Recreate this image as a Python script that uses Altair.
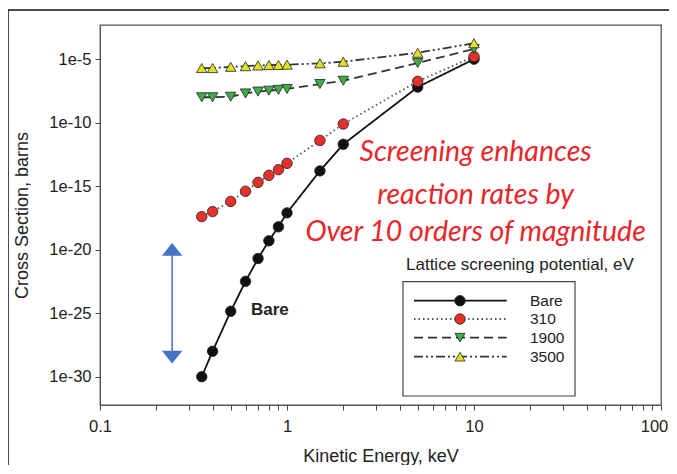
import altair as alt
import pandas as pd

# ---------------- data ----------------
energy = [0.35, 0.4, 0.5, 0.6, 0.7, 0.8, 0.9, 1.0, 1.5, 2.0, 5.0, 10.0]
bare = [1.0e-30, 1.0e-28, 1.4e-25, 3.2e-23, 2.0e-21, 5.0e-20, 6.3e-19, 7.9e-18,
        1.6e-14, 2.0e-12, 6.3e-8, 1.0e-5]
s310 = [4.0e-18, 1.0e-17, 6.3e-17, 4.0e-16, 2.0e-15, 7.1e-15, 2.0e-14, 6.3e-14,
        4.0e-12, 7.9e-11, 1.8e-7, 1.6e-5]
s1900 = [1.0e-8, 1.0e-8, 1.1e-8, 2.0e-8, 2.8e-8, 3.3e-8, 3.8e-8, 4.5e-8,
         1.1e-7, 2.0e-7, 5.0e-6, 6.3e-5]
s3500 = [2.0e-6, 2.0e-6, 2.5e-6, 2.8e-6, 3.2e-6, 3.4e-6, 3.5e-6, 3.7e-6,
         4.7e-6, 6.3e-6, 3.2e-5, 1.8e-4]
series_names = ["Bare", "310", "1900", "3500"]

x_ticks = [0.1, 0.2, 0.3, 0.4, 0.5, 0.6, 0.7, 0.8, 0.9,
           1, 2, 3, 4, 5, 6, 7, 8, 9,
           10, 20, 30, 40, 50, 60, 70, 80, 90, 100]
y_ticks = [1e-30, 1e-25, 1e-20, 1e-15, 1e-10, 1e-5]

note_lines = ["Screening enhances", "reaction rates by", "Over 10 orders of magnitude"]
note_x = [10.2, 10.2, 10.2]
note_y = [4.9e-13, 2.0e-16, 2.5e-19]

bare_label_x = [0.81]
bare_label_y = [1.8e-25]

arrow_x = [0.243]
arrow_top = [2.3e-20]
arrow_bottom = [1.6e-29]
arrow_head_top = [1.05e-20]
arrow_head_bottom = [3.5e-29]

legend_title = "Lattice screening potential, eV"

# ---------------- styles ----------------
FONT = "Liberation Sans"
line_colors = ["#111111", "#555555", "#333333", "#333333"]
dashes = [[1, 0], [1.5, 3], [9, 5], [9, 3, 2, 3, 2, 3]]
fills = ["#111111", "#E5312A", "#3DAE49", "#E4DF22"]
shapes = ["circle", "circle", "triangle-down", "triangle-up"]
sizes = [110, 110, 100, 100]
ARROW = "#4472C4"

W, H = 561, 380
YMIN, YMAX = 10 ** -32.23, 10 ** -2.31

rows = []
for name, vals in zip(series_names, [bare, s310, s1900, s3500]):
    for e, v in zip(energy, vals):
        rows.append({"series": name, "energy": e, "xs": v})
df = pd.DataFrame(rows)

x_enc = alt.X(
    "energy:Q",
    scale=alt.Scale(type="log", domain=[0.1, 100], nice=False),
    axis=alt.Axis(
        title="Kinetic Energy, keV",
        values=x_ticks,
        labelExpr="abs(log(datum.value)/LN10 - round(log(datum.value)/LN10)) < 0.001 ? format(datum.value, '~g') : ''",
        labelOverlap=False,
        labelFlush=False,
        labelOffset={"condition": {"test": "datum.value >= 99", "value": -7}, "value": 0},
        tickSize=5,
        labelPadding=8,
        titlePadding=13,
    ),
)
y_enc = alt.Y(
    "xs:Q",
    scale=alt.Scale(type="log", domain=[YMIN, YMAX], nice=False),
    axis=alt.Axis(
        title="Cross Section, barns",
        values=y_ticks,
        labelExpr="'1e-' + round(-log(datum.value)/LN10)",
        labelOverlap=False,
        tickSize=5,
        labelPadding=4,
        titlePadding=17,
    ),
)

lines = alt.Chart(df).mark_line(strokeWidth=1.8).encode(
    x=x_enc,
    y=y_enc,
    detail="series:N",
    color=alt.Color("series:N", scale=alt.Scale(domain=series_names, range=line_colors), legend=None),
    strokeDash=alt.StrokeDash("series:N", scale=alt.Scale(domain=series_names, range=dashes), legend=None),
)

points = alt.Chart(df).mark_point(filled=True, opacity=1, stroke="#222222", strokeWidth=0.8).encode(
    x=x_enc,
    y=y_enc,
    fill=alt.Fill("series:N", scale=alt.Scale(domain=series_names, range=fills), legend=None),
    shape=alt.Shape("series:N", scale=alt.Scale(domain=series_names, range=shapes), legend=None),
    size=alt.Size("series:N", scale=alt.Scale(domain=series_names, range=sizes), legend=None),
)

# annotation text
note_df = pd.DataFrame({"energy": note_x, "xs": note_y, "txt": note_lines})
notes = alt.Chart(note_df).mark_text(
    font="Lato", fontStyle="italic", fontSize=28.5, color="#E8262A", align="center", baseline="middle"
).encode(x=x_enc, y=y_enc, text="txt:N")

bare_df = pd.DataFrame({"energy": bare_label_x, "xs": bare_label_y, "txt": ["Bare"]})
bare_txt = alt.Chart(bare_df).mark_text(
    font=FONT, fontWeight="bold", fontSize=17, color="#222222", align="center", baseline="middle"
).encode(x=x_enc, y=y_enc, text="txt:N")

# double-headed arrow
arrow_df = pd.DataFrame({"energy": arrow_x, "xs": arrow_top, "xs2": arrow_bottom})
arrow_line = alt.Chart(arrow_df).mark_rule(color=ARROW, strokeWidth=1.5).encode(
    x=x_enc, y=y_enc, y2=alt.Y2("xs2:Q")
)
head_up = alt.Chart(pd.DataFrame({"energy": arrow_x, "xs": arrow_head_top})).mark_point(
    filled=True, opacity=1, color=ARROW, size=420, shape="M-1,0.62L0,-0.62L1,0.62Z"
).encode(x=x_enc, y=y_enc)
head_down = alt.Chart(pd.DataFrame({"energy": arrow_x, "xs": arrow_head_bottom})).mark_point(
    filled=True, opacity=1, color=ARROW, size=420, shape="M-1,-0.62L0,0.62L1,-0.62Z"
).encode(x=x_enc, y=y_enc)

# manual legend (layout in pixels)
one = pd.DataFrame({"a": [0]})
LX0, LX1, LXM, LXT = 314, 406.7, 360, 430
LROWS = [275.7, 294.0, 312.7, 331.7]
legend_layers = [
    alt.Chart(one).mark_rect(fillOpacity=0, stroke="#444444", strokeWidth=1.2).encode(
        x=alt.value(303), x2=alt.value(475), y=alt.value(256.7), y2=alt.value(371)
    ),
    alt.Chart(one).mark_text(text=legend_title, font=FONT, fontSize=17, color="#222222",
                             align="left", baseline="middle").encode(x=alt.value(306), y=alt.value(240)),
]
for i, name in enumerate(series_names):
    legend_layers.append(
        alt.Chart(one).mark_rule(color=line_colors[i], strokeWidth=1.8, strokeDash=dashes[i]).encode(
            x=alt.value(LX0), x2=alt.value(LX1), y=alt.value(LROWS[i])
        )
    )
    legend_layers.append(
        alt.Chart(one).mark_point(filled=True, opacity=1, fill=fills[i], stroke="#222222", strokeWidth=0.8,
                                  shape=shapes[i], size=sizes[i]).encode(
            x=alt.value(LXM), y=alt.value(LROWS[i])
        )
    )
    legend_layers.append(
        alt.Chart(one).mark_text(text=name, font=FONT, fontSize=15.5, color="#222222",
                                 align="left", baseline="middle").encode(x=alt.value(LXT), y=alt.value(LROWS[i]))
    )

# outer picture frame
frame = alt.Chart(one).mark_rect(fillOpacity=0, stroke="#111111", strokeWidth=1.5).encode(
    x=alt.value(-92), x2=alt.value(700), y=alt.value(-15), y2=alt.value(600)
)

chart = alt.layer(
    lines, points, arrow_line, head_up, head_down, notes, bare_txt, *legend_layers, frame
).properties(
    width=W, height=H,
    autosize=alt.AutoSizeParams(type="none"),
    padding={"left": 92, "top": 17, "right": 8, "bottom": 60},
).configure_view(
    stroke="#555555", strokeWidth=1.3
).configure_axis(
    grid=False,
    domainColor="#555555",
    tickColor="#444444",
    labelFont=FONT, titleFont=FONT,
    labelFontSize=16.5, titleFontSize=18,
    labelColor="#222222", titleColor="#222222",
    titleFontWeight="normal",
)

chart.save("out.html", embed_options={"renderer": "svg", "actions": False})
